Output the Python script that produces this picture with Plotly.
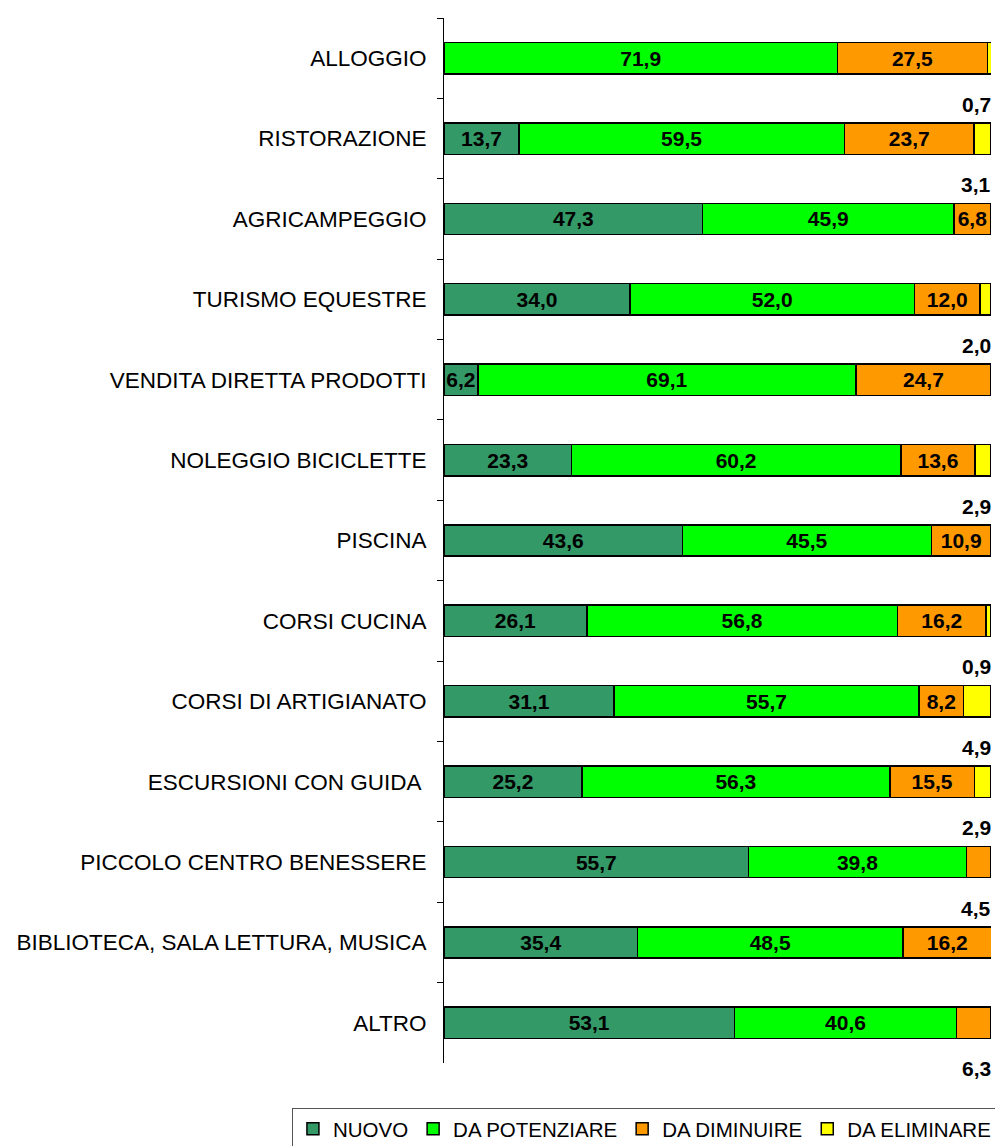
import plotly.graph_objects as go

categories = ["ALLOGGIO", "RISTORAZIONE", "AGRICAMPEGGIO", "TURISMO EQUESTRE",
              "VENDITA DIRETTA PRODOTTI", "NOLEGGIO BICICLETTE", "PISCINA",
              "CORSI CUCINA", "CORSI DI ARTIGIANATO", "ESCURSIONI CON GUIDA ",
              "PICCOLO CENTRO BENESSERE", "BIBLIOTECA, SALA LETTURA, MUSICA", "ALTRO"]

series_names = ["NUOVO", "DA POTENZIARE", "DA DIMINUIRE", "DA ELIMINARE"]
nuovo = [0, 13.7, 47.3, 34.0, 6.2, 23.3, 43.6, 26.1, 31.1, 25.2, 55.7, 35.4, 53.1]
potenziare = [71.9, 59.5, 45.9, 52.0, 69.1, 60.2, 45.5, 56.8, 55.7, 56.3, 39.8, 48.5, 40.6]
diminuire = [27.5, 23.7, 6.8, 12.0, 24.7, 13.6, 10.9, 16.2, 8.2, 15.5, 4.5, 16.2, 6.3]
eliminare = [0.7, 3.1, 0, 2.0, 0, 2.9, 0, 0.9, 4.9, 2.9, 0, 0, 0]

# series index of the narrow segment whose label is written below the bar
below_series = [3, 3, None, 3, None, 3, None, 3, 3, 3, 2, None, 2]

colors = ["#339966", "#00FF00", "#FF9900", "#FFFF00"]
FONT = "Liberation Sans, Arial, sans-serif"


def fmt(v):
    return f"{v:.1f}".replace(".", ",")


fig = go.Figure()
all_vals = [nuovo, potenziare, diminuire, eliminare]
for si, (name, vals, col) in enumerate(zip(series_names, all_vals, colors)):
    texts = []
    for ci, v in enumerate(vals):
        if v == 0 or below_series[ci] == si:
            texts.append("")
        else:
            texts.append(fmt(v))
    fig.add_trace(go.Bar(
        y=categories, x=vals, name=name, orientation="h",
        marker=dict(color=col, line=dict(color="black", width=1.5)),
        text=texts, textposition="inside", insidetextanchor="middle",
        textangle=0,
        textfont=dict(family=FONT, size=21, color="black", weight="bold"),
        hoverinfo="skip",
    ))

for ci, s in enumerate(below_series):
    if s is None:
        continue
    v = all_vals[s][ci]
    fig.add_annotation(x=100, y=categories[ci], xref="x", yref="y",
                       text=f"<b>{fmt(v)}</b>", showarrow=False,
                       xanchor="right", yanchor="middle", yshift=-46, xshift=2,
                       font=dict(family=FONT, size=21, color="black"))

n = len(categories)
fig.update_layout(
    barmode="stack", bargap=0.61,
    width=995, height=1146,
    margin=dict(l=444, r=4, t=18, b=83, autoexpand=False),
    paper_bgcolor="white", plot_bgcolor="white",
    font=dict(family=FONT, color="black"),
    uniformtext=dict(minsize=21, mode="show"),
    showlegend=True,
    legend=dict(orientation="h", x=-0.278, xanchor="left", y=-0.043, yanchor="top",
                bordercolor="#555555", borderwidth=1,
                font=dict(size=20.5, family=FONT),
                traceorder="normal", itemwidth=30),
)
fig.update_xaxes(range=[0, 100], visible=False, fixedrange=True)
fig.update_yaxes(range=[n - 0.5, -0.5], showline=True, linecolor="black", linewidth=1,
                 ticks="outside", ticklen=6, tickcolor="black", tickson="boundaries",
                 tickfont=dict(size=22.5, family=FONT), fixedrange=True,
                 showgrid=False, zeroline=False, ticklabelstandoff=12)

fig.write_html("out.html", config={"displayModeBar": False},
               post_script="document.body.style.margin='0';document.body.style.overflow='hidden';")
